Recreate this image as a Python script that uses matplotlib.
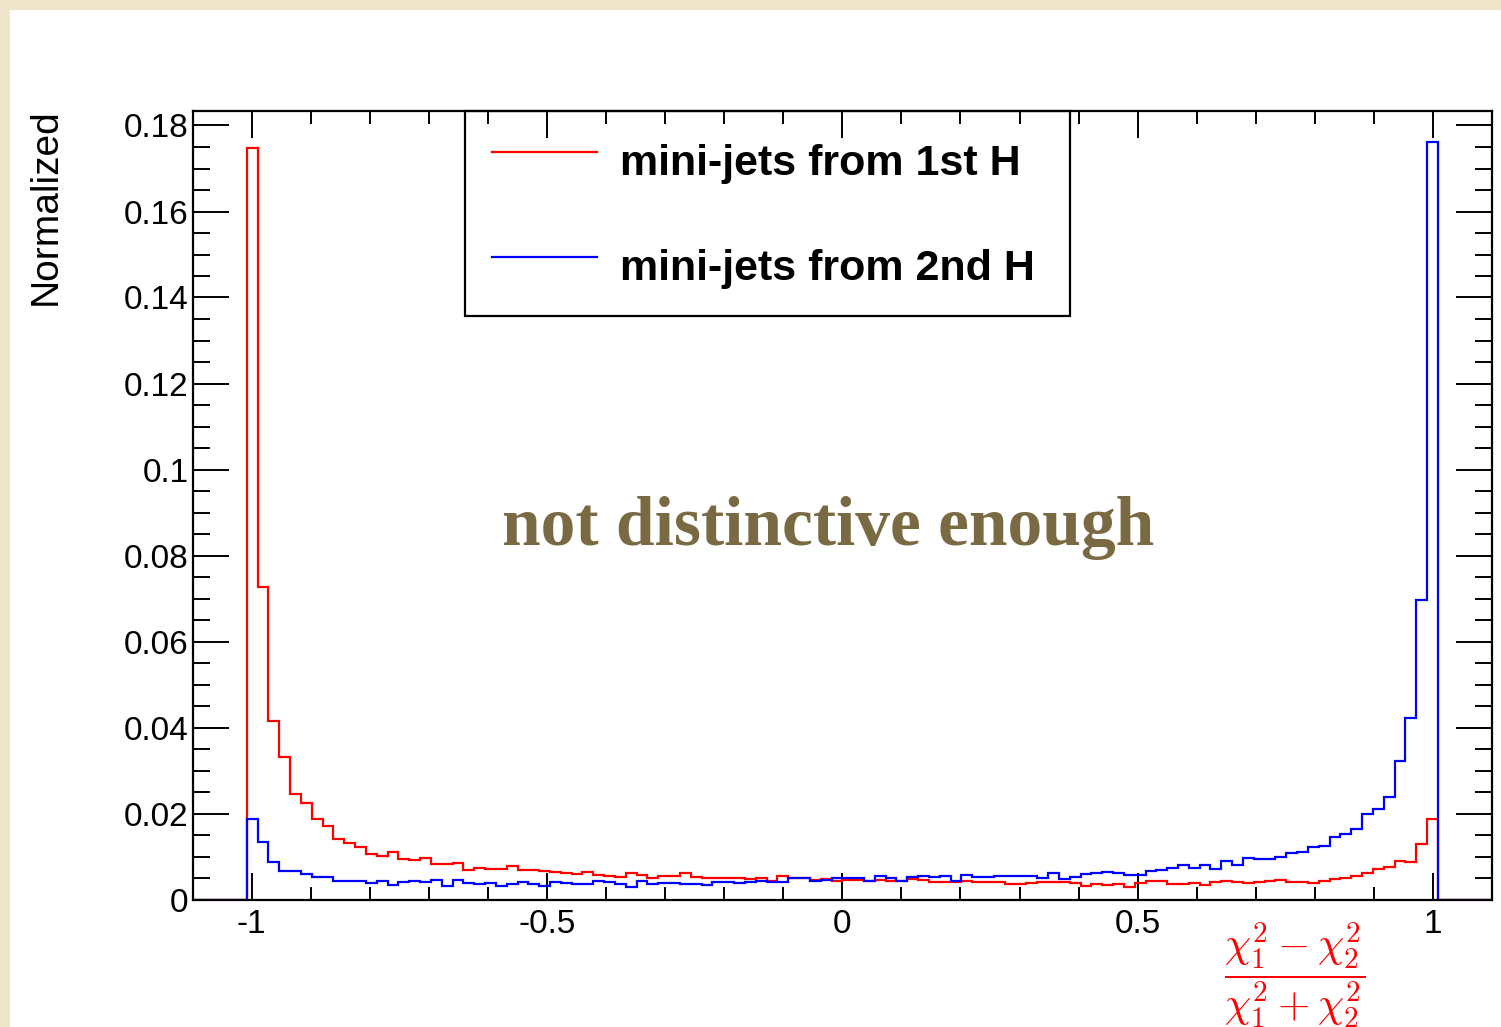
import matplotlib
matplotlib.use("Agg")
import matplotlib.pyplot as plt
import numpy as np
from matplotlib.patches import Rectangle
from matplotlib.ticker import MultipleLocator

plt.rcParams["font.family"] = ["Liberation Sans", "DejaVu Sans"]
plt.rcParams["mathtext.fontset"] = "cm"

# ----------------------------------------------------------------------
# Data: 120 bins on [-1.1, 1.1], only bins 5..114 are filled
# ----------------------------------------------------------------------
N_BINS = 120
X_MIN, X_MAX = -1.1, 1.1
FIRST_BIN = 5

red_1st_h = [
    0.1747, 0.0727, 0.0415, 0.0332, 0.0245, 0.0224, 0.0187, 0.0171, 0.0141, 0.0131,
    0.0123, 0.0106, 0.0101, 0.0110, 0.0094, 0.0093, 0.0096, 0.0083, 0.0083, 0.0086,
    0.0069, 0.0074, 0.0070, 0.0072, 0.0079, 0.0069, 0.0069, 0.0066, 0.0063, 0.0062,
    0.0060, 0.0064, 0.0057, 0.0055, 0.0053, 0.0062, 0.0058, 0.0050, 0.0055, 0.0054,
    0.0061, 0.0053, 0.0050, 0.0050, 0.0050, 0.0051, 0.0047, 0.0051, 0.0044, 0.0054,
    0.0051, 0.0049, 0.0046, 0.0047, 0.0044, 0.0045, 0.0045, 0.0042, 0.0045, 0.0044,
    0.0043, 0.0047, 0.0045, 0.0041, 0.0040, 0.0041, 0.0044, 0.0040, 0.0040, 0.0040,
    0.0036, 0.0036, 0.0039, 0.0040, 0.0041, 0.0040, 0.0038, 0.0032, 0.0035, 0.0034,
    0.0035, 0.0028, 0.0038, 0.0042, 0.0042, 0.0037, 0.0035, 0.0039, 0.0033, 0.0040,
    0.0042, 0.0041, 0.0038, 0.0040, 0.0044, 0.0045, 0.0041, 0.0040, 0.0039, 0.0044,
    0.0048, 0.0051, 0.0054, 0.0062, 0.0070, 0.0076, 0.0090, 0.0088, 0.0128, 0.0187,
]

blue_2nd_h = [
    0.0188, 0.0133, 0.0087, 0.0067, 0.0067, 0.0059, 0.0053, 0.0053, 0.0044, 0.0043,
    0.0042, 0.0038, 0.0043, 0.0033, 0.0040, 0.0044, 0.0041, 0.0045, 0.0031, 0.0046,
    0.0038, 0.0035, 0.0038, 0.0031, 0.0036, 0.0041, 0.0035, 0.0031, 0.0041, 0.0038,
    0.0035, 0.0035, 0.0042, 0.0040, 0.0036, 0.0030, 0.0044, 0.0036, 0.0039, 0.0039,
    0.0037, 0.0037, 0.0034, 0.0040, 0.0041, 0.0039, 0.0041, 0.0042, 0.0040, 0.0040,
    0.0050, 0.0050, 0.0042, 0.0045, 0.0049, 0.0049, 0.0050, 0.0042, 0.0054, 0.0051,
    0.0043, 0.0053, 0.0054, 0.0053, 0.0055, 0.0044, 0.0057, 0.0053, 0.0053, 0.0055,
    0.0054, 0.0054, 0.0054, 0.0051, 0.0062, 0.0048, 0.0053, 0.0060, 0.0061, 0.0063,
    0.0061, 0.0058, 0.0058, 0.0067, 0.0069, 0.0073, 0.0080, 0.0074, 0.0080, 0.0070,
    0.0090, 0.0080, 0.0097, 0.0094, 0.0095, 0.0100, 0.0108, 0.0110, 0.0123, 0.0125,
    0.0146, 0.0152, 0.0165, 0.0200, 0.0211, 0.0238, 0.0323, 0.0423, 0.0697, 0.1762,
]

labels = ["mini-jets from 1st H", "mini-jets from 2nd H"]


def full_hist(vals):
    h = np.zeros(N_BINS)
    h[FIRST_BIN:FIRST_BIN + len(vals)] = vals
    return h


edges = np.linspace(X_MIN, X_MAX, N_BINS + 1)

# ----------------------------------------------------------------------
# Figure
# ----------------------------------------------------------------------
W, H = 1501, 1027
fig = plt.figure(figsize=(W / 100, H / 100), dpi=100)
fig.patch.set_facecolor("#efe5ca")
fig.add_artist(Rectangle((10 / W, 0), 1 - 10 / W, 1 - 10 / H,
                         transform=fig.transFigure, facecolor="white",
                         edgecolor="none", zorder=0))

ax = fig.add_axes([192.7 / W, 1 - 899.5 / H, (1492 - 192.7) / W, (899.5 - 110.7) / H])
ax.set_facecolor("white")

h_red = ax.stairs(full_hist(red_1st_h), edges, color="#ff0000", lw=1.6, zorder=2)
h_blue = ax.stairs(full_hist(blue_2nd_h), edges, color="#0000ff", lw=1.6, zorder=2)

ax.set_xlim(X_MIN, X_MAX)
ax.set_ylim(0, (899.5 - 110.7) / 4300)

for s in ax.spines.values():
    s.set_linewidth(1.6)

ax.xaxis.set_major_locator(MultipleLocator(0.5))
ax.xaxis.set_minor_locator(MultipleLocator(0.1))
ax.yaxis.set_major_locator(MultipleLocator(0.02))
ax.yaxis.set_minor_locator(MultipleLocator(0.005))
ax.xaxis.set_major_formatter(lambda v, p: f"{v:g}")
ax.yaxis.set_major_formatter(lambda v, p: f"{v:g}")

ax.tick_params(which="both", direction="in", top=True, right=True, width=1.4,
               labelsize=24, colors="black")
ax.tick_params(axis="x", which="major", length=19.5, pad=7)
ax.tick_params(axis="x", which="minor", length=9.5)
ax.tick_params(axis="y", which="major", length=26, pad=3)
ax.tick_params(axis="y", which="minor", length=12.5)

# legend box spans x 465..1070 px, top at the frame
leg = ax.legend([h_red, h_blue], labels, loc="upper left",
                bbox_to_anchor=(465 / W, 1 - 315 / H, 605 / W, (315 - 110.7) / H),
                bbox_transform=fig.transFigure, borderaxespad=0, mode="expand",
                prop={"weight": "bold", "size": 31}, frameon=True,
                fancybox=False, edgecolor="black", framealpha=1,
                handlelength=2.44, handletextpad=0.53, borderpad=0.62,
                handleheight=1.3, labelspacing=1.35)
leg.get_frame().set_linewidth(1.6)
leg.set_zorder(1)
for line in leg.get_lines():
    line.set_linewidth(1.6)

fig.text(46 / W, 1 - 108 / H, "Normalized", rotation=90, ha="center", va="top",
         fontsize=28)

fig.text(828 / W, 1 - 545 / H, "not distinctive enough", ha="center",
         va="baseline", fontsize=50, fontweight="bold",
         family=["Liberation Serif", "DejaVu Serif"], color="#7a6a43")

fig.text(1295 / W, 1 - 976 / H,
         r"$\dfrac{\chi_1^2-\chi_2^2}{\chi_1^2+\chi_2^2}$",
         ha="center", va="center", fontsize=30, color="#ff0000")

fig.savefig("out.png", dpi=100, facecolor=fig.get_facecolor())
